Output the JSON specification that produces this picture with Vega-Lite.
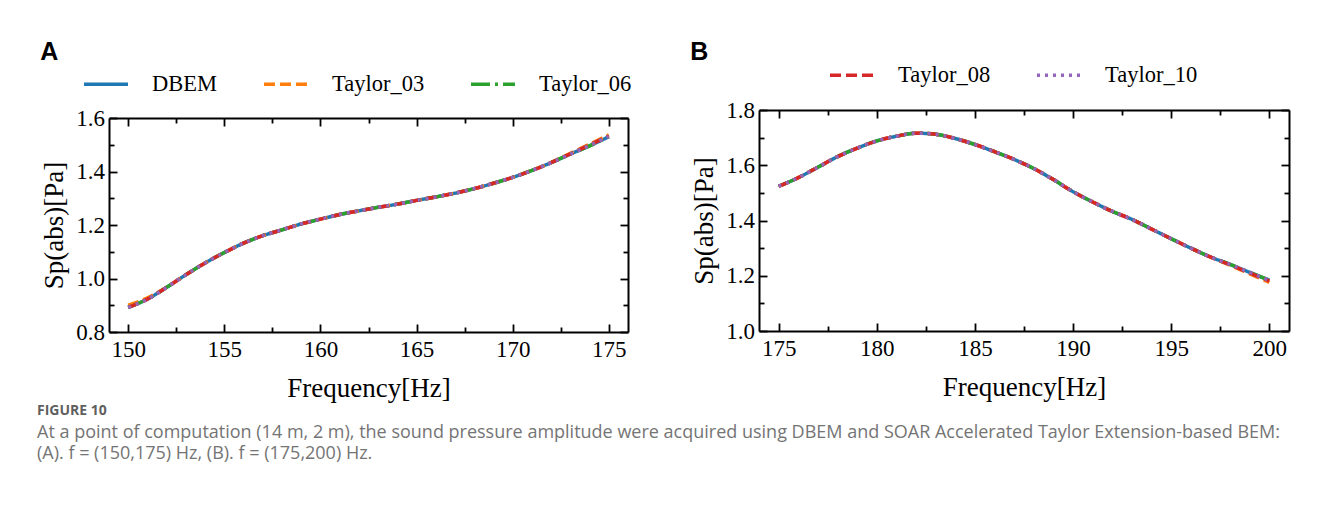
{
  "$schema": "https://vega.github.io/schema/vega-lite/v6.json",
  "padding": {"left": 37, "top": 40, "right": 5, "bottom": 5},
  "background": "white",
  "datasets": {
    "panelA": [
      {"f":150,"DBEM":0.892,"Taylor_03":0.900,"Taylor_06":0.892,"Taylor_08":0.892,"Taylor_10":0.892},
      {"f":151,"DBEM":0.923,"Taylor_03":0.928,"Taylor_06":0.923,"Taylor_08":0.923,"Taylor_10":0.923},
      {"f":152,"DBEM":0.967,"Taylor_03":0.967,"Taylor_06":0.967,"Taylor_08":0.967,"Taylor_10":0.967},
      {"f":153,"DBEM":1.014,"Taylor_03":1.014,"Taylor_06":1.014,"Taylor_08":1.014,"Taylor_10":1.014},
      {"f":154,"DBEM":1.058,"Taylor_03":1.058,"Taylor_06":1.058,"Taylor_08":1.058,"Taylor_10":1.058},
      {"f":155,"DBEM":1.097,"Taylor_03":1.097,"Taylor_06":1.097,"Taylor_08":1.097,"Taylor_10":1.097},
      {"f":156,"DBEM":1.132,"Taylor_03":1.132,"Taylor_06":1.132,"Taylor_08":1.132,"Taylor_10":1.132},
      {"f":157,"DBEM":1.160,"Taylor_03":1.160,"Taylor_06":1.160,"Taylor_08":1.160,"Taylor_10":1.160},
      {"f":158,"DBEM":1.182,"Taylor_03":1.182,"Taylor_06":1.182,"Taylor_08":1.182,"Taylor_10":1.182},
      {"f":159,"DBEM":1.204,"Taylor_03":1.204,"Taylor_06":1.204,"Taylor_08":1.204,"Taylor_10":1.204},
      {"f":160,"DBEM":1.222,"Taylor_03":1.222,"Taylor_06":1.222,"Taylor_08":1.222,"Taylor_10":1.222},
      {"f":161,"DBEM":1.239,"Taylor_03":1.239,"Taylor_06":1.239,"Taylor_08":1.239,"Taylor_10":1.239},
      {"f":162,"DBEM":1.253,"Taylor_03":1.253,"Taylor_06":1.253,"Taylor_08":1.253,"Taylor_10":1.253},
      {"f":163,"DBEM":1.266,"Taylor_03":1.266,"Taylor_06":1.266,"Taylor_08":1.266,"Taylor_10":1.266},
      {"f":164,"DBEM":1.278,"Taylor_03":1.278,"Taylor_06":1.278,"Taylor_08":1.278,"Taylor_10":1.278},
      {"f":165,"DBEM":1.292,"Taylor_03":1.292,"Taylor_06":1.292,"Taylor_08":1.292,"Taylor_10":1.292},
      {"f":166,"DBEM":1.305,"Taylor_03":1.305,"Taylor_06":1.305,"Taylor_08":1.305,"Taylor_10":1.305},
      {"f":167,"DBEM":1.319,"Taylor_03":1.319,"Taylor_06":1.319,"Taylor_08":1.319,"Taylor_10":1.319},
      {"f":168,"DBEM":1.336,"Taylor_03":1.336,"Taylor_06":1.336,"Taylor_08":1.336,"Taylor_10":1.336},
      {"f":169,"DBEM":1.356,"Taylor_03":1.356,"Taylor_06":1.356,"Taylor_08":1.356,"Taylor_10":1.356},
      {"f":170,"DBEM":1.378,"Taylor_03":1.378,"Taylor_06":1.378,"Taylor_08":1.378,"Taylor_10":1.378},
      {"f":171,"DBEM":1.404,"Taylor_03":1.404,"Taylor_06":1.404,"Taylor_08":1.404,"Taylor_10":1.404},
      {"f":172,"DBEM":1.433,"Taylor_03":1.434,"Taylor_06":1.433,"Taylor_08":1.433,"Taylor_10":1.433},
      {"f":173,"DBEM":1.465,"Taylor_03":1.468,"Taylor_06":1.465,"Taylor_08":1.466,"Taylor_10":1.465},
      {"f":174,"DBEM":1.496,"Taylor_03":1.502,"Taylor_06":1.496,"Taylor_08":1.499,"Taylor_10":1.497},
      {"f":175,"DBEM":1.530,"Taylor_03":1.537,"Taylor_06":1.530,"Taylor_08":1.533,"Taylor_10":1.531}
    ],
    "panelB": [
      {"f":175,"DBEM":1.524,"Taylor_03":1.524,"Taylor_06":1.524,"Taylor_08":1.524,"Taylor_10":1.524},
      {"f":176,"DBEM":1.555,"Taylor_03":1.555,"Taylor_06":1.555,"Taylor_08":1.555,"Taylor_10":1.555},
      {"f":177,"DBEM":1.593,"Taylor_03":1.593,"Taylor_06":1.593,"Taylor_08":1.593,"Taylor_10":1.593},
      {"f":178,"DBEM":1.631,"Taylor_03":1.631,"Taylor_06":1.631,"Taylor_08":1.631,"Taylor_10":1.631},
      {"f":179,"DBEM":1.662,"Taylor_03":1.662,"Taylor_06":1.662,"Taylor_08":1.662,"Taylor_10":1.662},
      {"f":180,"DBEM":1.688,"Taylor_03":1.688,"Taylor_06":1.688,"Taylor_08":1.688,"Taylor_10":1.688},
      {"f":181,"DBEM":1.705,"Taylor_03":1.705,"Taylor_06":1.705,"Taylor_08":1.705,"Taylor_10":1.705},
      {"f":182,"DBEM":1.716,"Taylor_03":1.716,"Taylor_06":1.716,"Taylor_08":1.716,"Taylor_10":1.716},
      {"f":183,"DBEM":1.712,"Taylor_03":1.712,"Taylor_06":1.712,"Taylor_08":1.712,"Taylor_10":1.712},
      {"f":184,"DBEM":1.697,"Taylor_03":1.697,"Taylor_06":1.697,"Taylor_08":1.697,"Taylor_10":1.697},
      {"f":185,"DBEM":1.675,"Taylor_03":1.675,"Taylor_06":1.675,"Taylor_08":1.675,"Taylor_10":1.675},
      {"f":186,"DBEM":1.649,"Taylor_03":1.649,"Taylor_06":1.649,"Taylor_08":1.649,"Taylor_10":1.649},
      {"f":187,"DBEM":1.621,"Taylor_03":1.621,"Taylor_06":1.621,"Taylor_08":1.621,"Taylor_10":1.621},
      {"f":188,"DBEM":1.588,"Taylor_03":1.588,"Taylor_06":1.588,"Taylor_08":1.588,"Taylor_10":1.588},
      {"f":189,"DBEM":1.548,"Taylor_03":1.548,"Taylor_06":1.548,"Taylor_08":1.548,"Taylor_10":1.548},
      {"f":190,"DBEM":1.504,"Taylor_03":1.504,"Taylor_06":1.504,"Taylor_08":1.504,"Taylor_10":1.504},
      {"f":191,"DBEM":1.467,"Taylor_03":1.467,"Taylor_06":1.467,"Taylor_08":1.467,"Taylor_10":1.467},
      {"f":192,"DBEM":1.433,"Taylor_03":1.433,"Taylor_06":1.433,"Taylor_08":1.433,"Taylor_10":1.433},
      {"f":193,"DBEM":1.404,"Taylor_03":1.404,"Taylor_06":1.404,"Taylor_08":1.404,"Taylor_10":1.404},
      {"f":194,"DBEM":1.369,"Taylor_03":1.369,"Taylor_06":1.369,"Taylor_08":1.369,"Taylor_10":1.369},
      {"f":195,"DBEM":1.334,"Taylor_03":1.334,"Taylor_06":1.334,"Taylor_08":1.334,"Taylor_10":1.334},
      {"f":196,"DBEM":1.300,"Taylor_03":1.300,"Taylor_06":1.300,"Taylor_08":1.300,"Taylor_10":1.300},
      {"f":197,"DBEM":1.268,"Taylor_03":1.267,"Taylor_06":1.268,"Taylor_08":1.268,"Taylor_10":1.268},
      {"f":198,"DBEM":1.241,"Taylor_03":1.238,"Taylor_06":1.241,"Taylor_08":1.240,"Taylor_10":1.241},
      {"f":199,"DBEM":1.212,"Taylor_03":1.207,"Taylor_06":1.212,"Taylor_08":1.210,"Taylor_10":1.212},
      {"f":200,"DBEM":1.184,"Taylor_03":1.176,"Taylor_06":1.184,"Taylor_08":1.181,"Taylor_10":1.183}
    ]
  },
  "title": {
    "text": "FIGURE 10",
    "subtitle": [
      "At a point of computation (14 m, 2 m), the sound pressure amplitude were acquired using DBEM and SOAR Accelerated Taylor Extension-based BEM:",
      "(A). f = (150,175) Hz, (B). f = (175,200) Hz."
    ],
    "orient": "bottom",
    "anchor": "start",
    "frame": "group",
    "offset": 3,
    "dx": -72,
    "font": "Open Sans",
    "fontSize": 14,
    "fontWeight": "bold",
    "color": "#5f5f5f",
    "subtitleFont": "Open Sans",
    "subtitleFontSize": 18,
    "subtitleColor": "#747474",
    "subtitleLineHeight": 21.6,
    "subtitlePadding": 5.5
  },
  "bounds": "flush",
  "spacing": 131,
  "resolve": {
    "scale": {"color": "independent", "strokeDash": "independent"},
    "legend": {"color": "independent", "strokeDash": "independent"}
  },
  "hconcat": [
    {
      "title": {"text": "A", "anchor": "start", "frame": "bounds", "font": "Liberation Sans", "fontSize": 25, "fontWeight": "bold", "baseline": "alphabetic", "offset": -25, "color": "black"},
      "width": 519,
      "height": 222,
      "data": {"name": "panelA"},
      "transform": [{"fold": ["DBEM", "Taylor_03", "Taylor_06", "Taylor_08", "Taylor_10"], "as": ["series", "v"]}],
      "resolve": {"axis": {"x": "independent", "y": "independent"}},
      "layer": [
        {
          "mark": {"type": "line", "strokeWidth": 3.5, "interpolate": "monotone"},
          "encoding": {
            "x": {"field": "f", "type": "quantitative",
              "scale": {"domain": [149, 176], "nice": false, "zero": false},
              "axis": {"orient": "bottom", "values": [150,152.5,155,157.5,160,162.5,165,167.5,170,172.5,175], "format": "d",
                "labelExpr": "datum.value % 5 === 0 ? datum.label : ''",
                "tickSize": {"condition": {"test": "datum.value % 5 === 0", "value": -8}, "value": -5},
                "labelPadding": 14, "title": "Frequency[Hz]", "titlePadding": 11}},
            "y": {"field": "v", "type": "quantitative",
              "scale": {"domain": [0.8, 1.6], "nice": false, "zero": false, "range": [222, 8]},
              "axis": {"orient": "left", "values": [0.8,0.9,1.0,1.1,1.2,1.3,1.4,1.5,1.6], "format": ".1f",
                "labelExpr": "round(datum.value*10) % 2 === 0 ? datum.label : ''",
                "tickSize": {"condition": {"test": "round(datum.value*10) % 2 === 0", "value": -8}, "value": -5},
                "labelPadding": 12.5, "title": "Sp(abs)[Pa]", "titlePadding": 7.5}},
            "color": {"field": "series", "type": "nominal",
              "scale": {"domain": ["DBEM", "Taylor_03", "Taylor_06", "Taylor_08", "Taylor_10"], "range": ["#1f77b4", "#ff7f0e", "#2ca02c", "#d62728", "#9467bd"]},
              "legend": {"orient": "none", "legendX": -27, "legendY": -50, "direction": "horizontal", "title": null, "values": ["DBEM", "Taylor_03", "Taylor_06"], "symbolType": "stroke", "symbolSize": 1936, "symbolStrokeWidth": 3.5, "labelFont": "Liberation Serif", "labelFontSize": 22.5, "labelColor": "black", "labelOffset": 22, "columnPadding": 39, "labelLimit": 300}},
            "strokeDash": {"field": "series", "type": "nominal",
              "scale": {"domain": ["DBEM", "Taylor_03", "Taylor_06", "Taylor_08", "Taylor_10"], "range": [[1, 0], [11, 5], [19, 5, 3, 5], [11, 5], [3, 5]]},
              "legend": {"orient": "none", "legendX": -27, "legendY": -50, "direction": "horizontal", "title": null, "values": ["DBEM", "Taylor_03", "Taylor_06"], "symbolType": "stroke", "symbolSize": 1936, "symbolStrokeWidth": 3.5, "labelFont": "Liberation Serif", "labelFontSize": 22.5, "labelColor": "black", "labelOffset": 22, "columnPadding": 39, "labelLimit": 300}}
          }
        },
        {
          "mark": {"type": "line", "opacity": 0},
          "encoding": {
            "x": {"field": "f", "type": "quantitative",
              "axis": {"orient": "top", "offset": -8, "values": [150,152.5,155,157.5,160,162.5,165,167.5,170,172.5,175], "labels": false, "title": null,
                "tickSize": {"condition": {"test": "datum.value % 5 === 0", "value": -8}, "value": -5}}},
            "y": {"field": "v", "type": "quantitative",
              "axis": {"orient": "right", "values": [0.8,0.9,1.0,1.1,1.2,1.3,1.4,1.5,1.6], "labels": false, "title": null,
                "tickSize": {"condition": {"test": "round(datum.value*10) % 2 === 0", "value": -8}, "value": -5}}}
          }
        }
      ]
    },
    {
      "title": {"text": "B", "anchor": "start", "frame": "bounds", "font": "Liberation Sans", "fontSize": 25, "fontWeight": "bold", "baseline": "alphabetic", "offset": -34, "color": "black"},
      "width": 530,
      "height": 221,
      "data": {"name": "panelB"},
      "transform": [{"fold": ["DBEM", "Taylor_03", "Taylor_06", "Taylor_08", "Taylor_10"], "as": ["series", "v"]}],
      "resolve": {"axis": {"x": "independent", "y": "independent"}},
      "layer": [
        {
          "mark": {"type": "line", "strokeWidth": 3.5, "interpolate": "monotone"},
          "encoding": {
            "x": {"field": "f", "type": "quantitative",
              "scale": {"domain": [174, 201], "nice": false, "zero": false},
              "axis": {"orient": "bottom", "values": [175,177.5,180,182.5,185,187.5,190,192.5,195,197.5,200], "format": "d",
                "labelExpr": "datum.value % 5 === 0 ? datum.label : ''",
                "tickSize": {"condition": {"test": "datum.value % 5 === 0", "value": -8}, "value": -5},
                "labelPadding": 14, "title": "Frequency[Hz]", "titlePadding": 11}},
            "y": {"field": "v", "type": "quantitative",
              "scale": {"domain": [1.0, 1.8], "nice": false, "zero": false},
              "axis": {"orient": "left", "values": [1.0,1.1,1.2,1.3,1.4,1.5,1.6,1.7,1.8], "format": ".1f",
                "labelExpr": "round(datum.value*10) % 2 === 0 ? datum.label : ''",
                "tickSize": {"condition": {"test": "round(datum.value*10) % 2 === 0", "value": -8}, "value": -5},
                "labelPadding": 12.5, "title": "Sp(abs)[Pa]", "titlePadding": 7.5}},
            "color": {"field": "series", "type": "nominal",
              "scale": {"domain": ["DBEM", "Taylor_03", "Taylor_06", "Taylor_08", "Taylor_10"], "range": ["#1f77b4", "#ff7f0e", "#2ca02c", "#d62728", "#9467bd"]},
              "legend": {"orient": "none", "legendX": 69, "legendY": -59, "direction": "horizontal", "title": null, "values": ["Taylor_08", "Taylor_10"], "symbolType": "stroke", "symbolSize": 1936, "symbolStrokeWidth": 3.5, "labelFont": "Liberation Serif", "labelFontSize": 22.5, "labelColor": "black", "labelOffset": 22, "columnPadding": 39, "labelLimit": 300}},
            "strokeDash": {"field": "series", "type": "nominal",
              "scale": {"domain": ["DBEM", "Taylor_03", "Taylor_06", "Taylor_08", "Taylor_10"], "range": [[1, 0], [11, 5], [19, 5, 3, 5], [11, 5], [3, 5]]},
              "legend": {"orient": "none", "legendX": 69, "legendY": -59, "direction": "horizontal", "title": null, "values": ["Taylor_08", "Taylor_10"], "symbolType": "stroke", "symbolSize": 1936, "symbolStrokeWidth": 3.5, "labelFont": "Liberation Serif", "labelFontSize": 22.5, "labelColor": "black", "labelOffset": 22, "columnPadding": 39, "labelLimit": 300}}
          }
        },
        {
          "mark": {"type": "line", "opacity": 0},
          "encoding": {
            "x": {"field": "f", "type": "quantitative",
              "axis": {"orient": "top", "values": [175,177.5,180,182.5,185,187.5,190,192.5,195,197.5,200], "labels": false, "title": null,
                "tickSize": {"condition": {"test": "datum.value % 5 === 0", "value": -8}, "value": -5}}},
            "y": {"field": "v", "type": "quantitative",
              "axis": {"orient": "right", "values": [1.0,1.1,1.2,1.3,1.4,1.5,1.6,1.7,1.8], "labels": false, "title": null,
                "tickSize": {"condition": {"test": "round(datum.value*10) % 2 === 0", "value": -8}, "value": -5}}}
          }
        }
      ]
    }
  ],
  "config": {
    "view": {"stroke": null},
    "axis": {
      "domainColor": "black", "domainWidth": 2, "tickColor": "black", "tickWidth": 1.8,
      "labelFont": "Liberation Serif", "labelFontSize": 23, "labelColor": "black",
      "titleFont": "Liberation Serif", "titleFontSize": 27, "titleFontWeight": "normal", "titleColor": "black",
      "grid": false, "labelFlush": false, "labelOverlap": false
    }
  }
}
